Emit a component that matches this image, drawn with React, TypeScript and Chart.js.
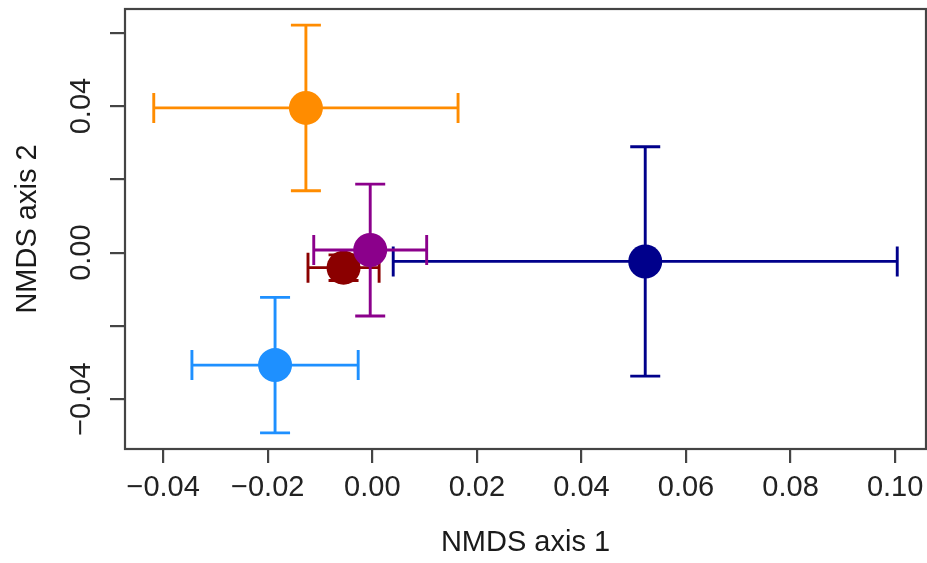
import React, { useEffect, useRef } from "react";
import { Chart, registerables } from "chart.js";

Chart.register(...registerables);

const groups = ["Group 1", "Group 2", "Group 3", "Group 4", "Group 5"];
const colors = ["#8B008B", "#8B0000", "#00008B", "#1E90FF", "#FF8C00"];
const xMean = [-0.0004, -0.0055, 0.0522, -0.0186, -0.0127];
const yMean = [0.0007, -0.0041, -0.0024, -0.0307, 0.0395];
const xErr = [0.0108, 0.0068, 0.0482, 0.0159, 0.0291];
const yErr = [0.018, 0.0035, 0.0313, 0.0185, 0.0226];

const xTicksMin = -0.0473;
const xTicksMax = 0.1059;
const yTicksMin = -0.0536;
const yTicksMax = 0.0665;
const tickStep = 0.02;
const yLabelStep = 0.04;

const FONT = "'Liberation Sans', Arial, sans-serif";

const fmt = (v: number) => {
  if (Math.abs(v) < 1e-9) return "0.00";
  const s = Math.abs(v).toFixed(2);
  return v < 0 ? "\u2212" + s : s;
};

const errorBars = {
  id: "errorBars",
  beforeDatasetDraw(chart: any, args: any) {
    const i = args.index;
    const ctx = chart.ctx;
    const xs = chart.scales.x;
    const ys = chart.scales.y;
    const cx = xs.getPixelForValue(xMean[i]);
    const cy = ys.getPixelForValue(yMean[i]);
    const x0 = xs.getPixelForValue(xMean[i] - xErr[i]);
    const x1 = xs.getPixelForValue(xMean[i] + xErr[i]);
    const y0 = ys.getPixelForValue(yMean[i] - yErr[i]);
    const y1 = ys.getPixelForValue(yMean[i] + yErr[i]);
    const cap = 15;
    ctx.save();
    ctx.strokeStyle = colors[i];
    ctx.lineWidth = 2.9;
    ctx.beginPath();
    ctx.moveTo(x0, cy);
    ctx.lineTo(x1, cy);
    ctx.moveTo(x0, cy - cap);
    ctx.lineTo(x0, cy + cap);
    ctx.moveTo(x1, cy - cap);
    ctx.lineTo(x1, cy + cap);
    ctx.moveTo(cx, y0);
    ctx.lineTo(cx, y1);
    ctx.moveTo(cx - cap, y0);
    ctx.lineTo(cx + cap, y0);
    ctx.moveTo(cx - cap, y1);
    ctx.lineTo(cx + cap, y1);
    ctx.stroke();
    ctx.restore();
  },
};

const boxPlugin = {
  id: "boxPlugin",
  afterDraw(chart: any) {
    const { left, top, right, bottom } = chart.chartArea;
    const ctx = chart.ctx;
    ctx.save();
    ctx.strokeStyle = "#444444";
    ctx.lineWidth = 2.2;
    ctx.strokeRect(left, top, right - left, bottom - top);
    ctx.restore();
  },
};

const noPad = (s: any) => {
  s.paddingLeft = 0;
  s.paddingRight = 0;
  s.paddingTop = 0;
  s.paddingBottom = 0;
};

export default function App() {
  const ref = useRef<HTMLCanvasElement>(null);
  useEffect(() => {
    if (!ref.current) return;
    const chart = new Chart(ref.current, {
      type: "scatter",
      data: {
        datasets: groups.map((g, i) => ({
          label: g,
          data: [{ x: xMean[i], y: yMean[i] }],
          backgroundColor: colors[i],
          borderWidth: 0,
          pointRadius: 17,
          pointHoverRadius: 17,
        })),
      },
      options: {
        animation: false,
        responsive: false,
        devicePixelRatio: 1,
        layout: { autoPadding: false, padding: { top: 9, right: 1, left: 0, bottom: 0 } },
        plugins: { legend: { display: false }, tooltip: { enabled: false } },
        scales: {
          x: {
            type: "linear",
            min: xTicksMin,
            max: xTicksMax,
            border: { display: false },
            grid: { drawOnChartArea: false, tickLength: 14, tickColor: "#444444", lineWidth: 2.2 },
            ticks: {
              stepSize: tickStep,
              includeBounds: false,
              autoSkip: false,
              maxRotation: 0,
              padding: 8,
              color: "#222222",
              font: { family: FONT, size: 29 },
              callback: (v: any) => fmt(Number(v)),
            },
            title: {
              display: true,
              text: "NMDS axis 1",
              color: "#1a1a1a",
              font: { family: FONT, size: 29 },
              padding: { top: 0, bottom: 3 },
            },
            afterFit: (s: any) => {
              s.height = 114;
              noPad(s);
            },
          },
          y: {
            type: "linear",
            min: yTicksMin,
            max: yTicksMax,
            border: { display: false },
            grid: { drawOnChartArea: false, tickLength: 15, tickColor: "#444444", lineWidth: 2.2 },
            ticks: {
              stepSize: tickStep,
              includeBounds: false,
              autoSkip: false,
              minRotation: 90,
              maxRotation: 90,
              crossAlign: "center",
              padding: -8.7,
              color: "#222222",
              font: { family: FONT, size: 29 },
              callback: (v: any) => {
                const n = Number(v);
                const r = n / yLabelStep;
                return Math.abs(r - Math.round(r)) < 1e-6 ? fmt(n) : "";
              },
            },
            title: {
              display: true,
              text: "NMDS axis 2",
              color: "#1a1a1a",
              font: { family: FONT, size: 29 },
              padding: { top: 11, bottom: 0 },
            },
            afterFit: (s: any) => {
              s.width = 125;
              noPad(s);
            },
          },
        },
      },
      plugins: [errorBars, boxPlugin],
    });
    return () => chart.destroy();
  }, []);
  return (
    <div style={{ position: "fixed", left: 0, top: 0, width: 927, height: 563, background: "#fff" }}>
      <canvas ref={ref} width={927} height={563} />
    </div>
  );
}
